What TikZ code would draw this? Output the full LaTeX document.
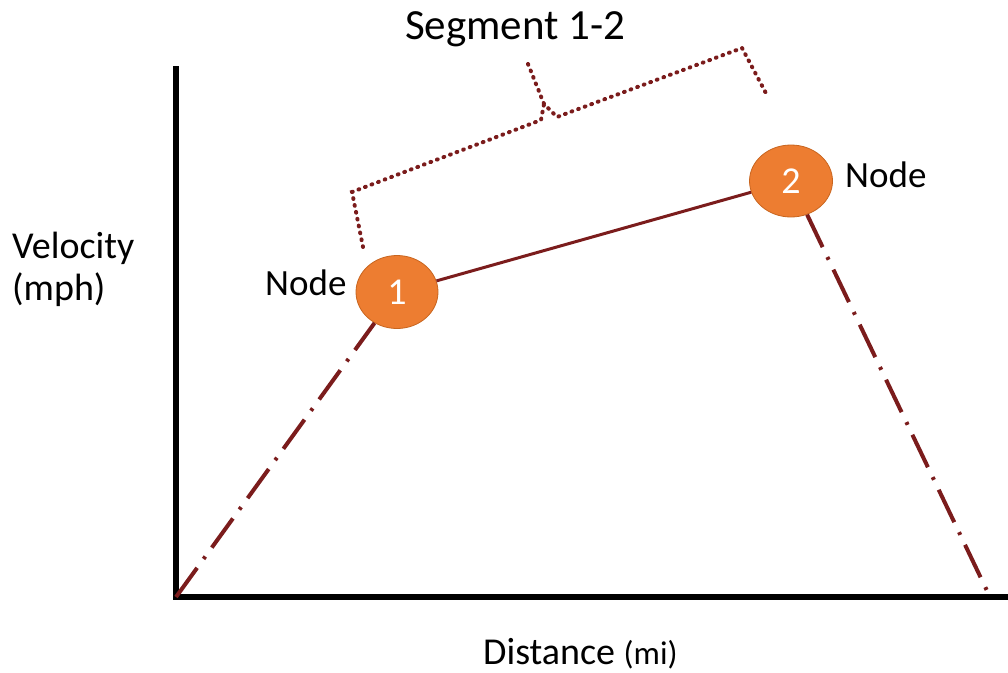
\documentclass[tikz,border=0pt]{standalone}
\usepackage{fontspec}
\setmainfont{Carlito}
\definecolor{lineRed}{HTML}{7B1C1C}
\definecolor{nodeOrange}{HTML}{ED7D31}
\definecolor{nodeEdge}{HTML}{C8651F}
\tikzset{
  numnode/.style={ellipse, fill=nodeOrange, draw=nodeEdge, line width=0.8pt, text=white, inner sep=0pt, font=\fontsize{38}{40}\selectfont},
  lbl/.style={inner sep=0pt, anchor=base west, font=\fontsize{37}{40}\selectfont},
  axisline/.style={line width=5.5pt, black},
  solidlink/.style={line width=3pt, lineRed},
  dashdotlink/.style={line width=4pt, lineRed, dash pattern=on 36pt off 11pt on 3pt off 11pt},
  dottedbrace/.style={line width=4pt, lineRed, line cap=round, dash pattern=on 0.8pt off 6.2pt},
}
\usetikzlibrary{shapes.geometric}
\begin{document}
\begin{tikzpicture}[x=1pt,y=-1pt]
\useasboundingbox (0,0) rectangle (1008,672);
% axes
\coordinate (ytop) at (176,66);
\coordinate (o) at (176,597);
\coordinate (xend) at (1008,597);
\draw[axisline] (ytop) -- (o) -- (xend);
% nodes
\node[numnode, minimum width=82pt, minimum height=73pt] (n1) at (397,292) {1};
\node[numnode, minimum width=83pt, minimum height=72pt] (n2) at (791,181) {2};
\coordinate (e) at (990,597);
% links
\draw[solidlink] (n1) -- (n2);
\draw[dashdotlink] (o) -- (n1);
\draw[dashdotlink] (n2) -- (e);
% brace
\coordinate (b1) at (363,247);
\coordinate (b2) at (352,192);
\coordinate (b3) at (541,120);
\coordinate (b4) at (544,104);
\coordinate (bt) at (528,64);
\coordinate (b5) at (557,117);
\coordinate (b6) at (742,48);
\coordinate (b7) at (768,97);
\draw[dottedbrace] (b1) -- (b2) -- (b3) -- (b4);
\draw[dottedbrace] (bt) -- (b4) -- (b5) -- (b6) -- (b7);
% labels
\node[lbl] (seg) at (405,39) {\fontsize{43}{46}\selectfont Segment 1-2};
\node[lbl] (lab1) at (265,295) {Node};
\node[lbl] (lab2) at (845,187) {Node};
\node[lbl] (vel) at (12,258) {\fontsize{38}{40}\selectfont Velocity};
\node[lbl] (mph) at (12,300) {\fontsize{38}{40}\selectfont (mph)};
\node[lbl] (dist) at (483,664) {\fontsize{38}{40}\selectfont Distance {\fontsize{33}{34}\selectfont (mi)}};
\end{tikzpicture}
\end{document}
